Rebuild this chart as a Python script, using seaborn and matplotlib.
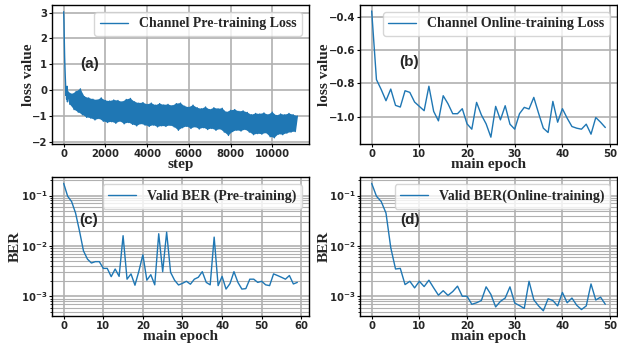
import numpy as np
import pandas as pd
import matplotlib
matplotlib.use("Agg")
import matplotlib.pyplot as plt
import seaborn as sns
from matplotlib.font_manager import FontProperties

# ---------------- data ----------------
# (a) channel pre-training loss: initial decay, then upper / lower envelope of the noisy band
pre_head_steps = [0, 15, 30, 45, 60, 75, 90, 105, 120, 140, 160, 180]
pre_head_vals = [3.03, 2.6, 1.9, 1.3, 0.9, 0.55, 0.25, -0.2, 0.1, -0.35, 0.15, -0.45]

pre_upper_steps = list(range(200, 11001, 200)) + [11200]
pre_upper = [-0.05, -0.15, -0.05, 0.05, -0.25, -0.30, -0.35, -0.38, -0.30, -0.40,
             -0.42, -0.38, -0.40, -0.45, -0.36, -0.32, -0.45, -0.50, -0.48, -0.55,
             -0.50, -0.58, -0.52, -0.57, -0.55, -0.60, -0.52, -0.50, -0.62, -0.66,
             -0.58, -0.68, -0.72, -0.65, -0.75, -0.68, -0.72, -0.70, -0.85, -0.78,
             -0.75, -0.82, -0.80, -0.86, -0.95, -0.90, -0.92, -0.88, -0.95, -0.85,
             -0.98, -0.92, -0.95, -0.90, -0.95, -1.00]
pre_lower_steps = list(range(300, 11101, 200))
pre_lower = [-0.55, -0.75, -0.85, -0.95, -1.05, -1.08, -1.15, -1.10, -1.20, -1.25,
             -1.22, -1.28, -1.20, -1.30, -1.25, -1.32, -1.38, -1.30, -1.35, -1.40,
             -1.35, -1.42, -1.38, -1.40, -1.36, -1.42, -1.55, -1.45, -1.40, -1.48,
             -1.42, -1.50, -1.45, -1.52, -1.48, -1.55, -1.50, -1.62, -1.75, -1.60,
             -1.55, -1.58, -1.52, -1.62, -1.72, -1.68, -1.70, -1.65, -1.80, -1.84,
             -1.70, -1.72, -1.66, -1.62, -1.60]

# (b) channel online-training loss
online_loss = [-0.366, -0.778, -0.838, -0.905, -0.835, -0.933, -0.943, -0.845, -0.855, -0.913,
               -0.939, -0.965, -0.818, -0.969, -1.026, -0.875, -0.923, -0.983, -0.983, -0.953,
               -1.044, -1.076, -0.915, -0.990, -1.044, -1.124, -0.939, -1.020, -0.935, -1.046,
               -1.076, -0.983, -0.945, -0.955, -0.885, -0.980, -1.070, -1.096, -0.909, -1.034,
               -0.953, -1.010, -1.060, -1.070, -1.076, -1.046, -1.106, -1.006, -1.034, -1.066]

# (c) valid BER, pre-training
ber_pre = [0.174, 0.097, 0.076, 0.045, 0.0197, 0.008, 0.0055, 0.0046, 0.0049, 0.0049,
           0.0036, 0.0036, 0.00247, 0.0035, 0.0025, 0.016, 0.0022, 0.0028, 0.00167, 0.0032,
           0.0067, 0.0021, 0.0027, 0.0017, 0.0175, 0.0031, 0.0188, 0.0030, 0.0021, 0.00169,
           0.00182, 0.0020, 0.00175, 0.0022, 0.0024, 0.0031, 0.0019, 0.0017, 0.015, 0.00164,
           0.0025, 0.0014, 0.0018, 0.0031, 0.0019, 0.0014, 0.00143, 0.0022, 0.0022, 0.0019,
           0.0020, 0.0017, 0.00164, 0.0028, 0.0026, 0.0024, 0.0022, 0.0026, 0.00177, 0.0019]

# (d) valid BER, online-training
ber_online = [0.174, 0.097, 0.076, 0.045, 0.0093, 0.0035, 0.0036, 0.00172, 0.0020, 0.00148,
              0.0020, 0.00157, 0.0021, 0.00148, 0.00106, 0.0013, 0.00105, 0.00125, 0.0016, 0.00101,
              0.00101, 0.0007, 0.00075, 0.00083, 0.00155, 0.0011, 0.00062, 0.0008, 0.00093, 0.00155,
              0.00074, 0.00066, 0.00058, 0.0020, 0.00086, 0.00065, 0.00052, 0.0009, 0.00083, 0.00065,
              0.0012, 0.00075, 0.00093, 0.00067, 0.00055, 0.00065, 0.00177, 0.00085, 0.00097, 0.0007]

labels = ["Channel Pre-training Loss", "Channel Online-training Loss",
          "Valid BER (Pre-training)", "Valid BER(Online-training)"]
panel_tags = ["(a)", "(b)", "(c)", "(d)"]
xticks_a = [0, 2000, 4000, 6000, 8000, 10000]
yticks_a = [-2, -1, 0, 1, 2, 3]
yticks_b = [-1.0, -0.8, -0.6, -0.4]

# ---------------- style ----------------
sns.set_style("white")
plt.rcParams["font.family"] = ["DejaVu Sans"]
plt.rcParams["font.weight"] = "bold"
plt.rcParams["mathtext.default"] = "bf"
plt.rcParams["axes.linewidth"] = 1.0
plt.rcParams["axes.edgecolor"] = "black"
plt.rcParams["xtick.bottom"] = True
plt.rcParams["ytick.left"] = True

BLUE = "#1f77b4"
GRID = "#b0b0b0"
label_font = dict(family="Liberation Serif", weight="bold", size=11)
leg_font = FontProperties(family="Liberation Serif", weight="bold", size=10)
tag_font = dict(family="Liberation Sans", weight="bold", size=11)

W, H = 618, 350
fig = plt.figure(figsize=(W / 100, H / 100), dpi=100)

def add_ax(l, t, r, b):
    return fig.add_axes([l / W, 1 - b / H, (r - l) / W, (b - t) / H])

ax_a = add_ax(52, 5, 309, 144)
ax_b = add_ax(360, 5, 617, 144)
ax_c = add_ax(52, 177, 309, 316)
ax_d = add_ax(360, 177, 617, 316)

# ---- (a) ----
merged = sorted(list(zip(pre_upper_steps, pre_upper)) + list(zip(pre_lower_steps, pre_lower)))
df_a = pd.DataFrame({"step": pre_head_steps + [p[0] for p in merged],
                     "loss": pre_head_vals + [p[1] for p in merged]})
poly_x = pre_upper_steps + pre_lower_steps[::-1]
poly_y = pre_upper + pre_lower[::-1]
ax_a.fill(poly_x, poly_y, color=BLUE, lw=0, zorder=2)
sns.lineplot(data=df_a, x="step", y="loss", ax=ax_a, color=BLUE, lw=1.0,
             estimator=None, sort=False, label=labels[0], zorder=3)
ax_a.set_xticks(xticks_a)
ax_a.set_yticks(yticks_a)
ax_a.set_ylim(-2.08, 3.29)
ax_a.set_xlabel("step", **label_font)
ax_a.set_ylabel("loss value", **label_font)

# ---- (b) ----
df_b = pd.DataFrame({"epoch": np.arange(len(online_loss)), "loss": online_loss})
sns.lineplot(data=df_b, x="epoch", y="loss", ax=ax_b, color=BLUE, lw=1.0, label=labels[1])
ax_b.set_xticks([0, 10, 20, 30, 40, 50])
ax_b.set_yticks(yticks_b)
ax_b.set_ylim(-1.165, -0.33)
ax_b.set_xlabel("main epoch", **label_font)
ax_b.set_ylabel("loss value", **label_font)

# ---- (c) ----
df_c = pd.DataFrame({"epoch": np.arange(len(ber_pre)), "ber": ber_pre})
sns.lineplot(data=df_c, x="epoch", y="ber", ax=ax_c, color=BLUE, lw=1.0, label=labels[2])
ax_c.set_yscale("log")
ax_c.set_xticks([0, 10, 20, 30, 40, 50, 60])
ax_c.set_ylim(4.1e-4, 0.233)
ax_c.set_xlabel("main epoch", **label_font)
ax_c.set_ylabel("BER", **label_font)

# ---- (d) ----
df_d = pd.DataFrame({"epoch": np.arange(len(ber_online)), "ber": ber_online})
sns.lineplot(data=df_d, x="epoch", y="ber", ax=ax_d, color=BLUE, lw=1.0, label=labels[3])
ax_d.set_yscale("log")
ax_d.set_xticks([0, 10, 20, 30, 40, 50])
ax_d.set_ylim(4.1e-4, 0.233)
ax_d.set_xlabel("main epoch", **label_font)
ax_d.set_ylabel("BER", **label_font)

tag_pos = [(0.146, 0.579), (0.192, 0.592), (0.141, 0.69), (0.195, 0.69)]
ylab_x = [-0.065, -0.114, -0.118, -0.114]
for ax, lab, tag, pos, yx in zip([ax_a, ax_b, ax_c, ax_d], labels, panel_tags, tag_pos, ylab_x):
    ax.grid(True, which="major", color=GRID, lw=1.2)
    if ax.get_yscale() == "log":
        ax.grid(True, which="minor", axis="y", color=GRID, lw=0.8)
    for s in ax.spines.values():
        s.set_visible(True)
        s.set_color("black")
        s.set_linewidth(1.0)
    ax.tick_params(axis="both", which="major", labelsize=7.3, length=2.3, width=0.8,
                   color="black", pad=1.0)
    ax.tick_params(axis="y", which="minor", length=1.5, width=0.6, color="black")
    for t in ax.get_xticklabels() + ax.get_yticklabels():
        t.set_fontweight("bold")
    ax.yaxis.set_label_coords(yx, 0.5)
    ax.xaxis.set_label_coords(0.5, -0.098)
    ax.legend(loc="upper right", prop=leg_font, handlelength=2.0)
    ax.text(pos[0], pos[1], tag, transform=ax.transAxes, ha="center", va="center", **tag_font)

fig.savefig("out.png", dpi=100)
